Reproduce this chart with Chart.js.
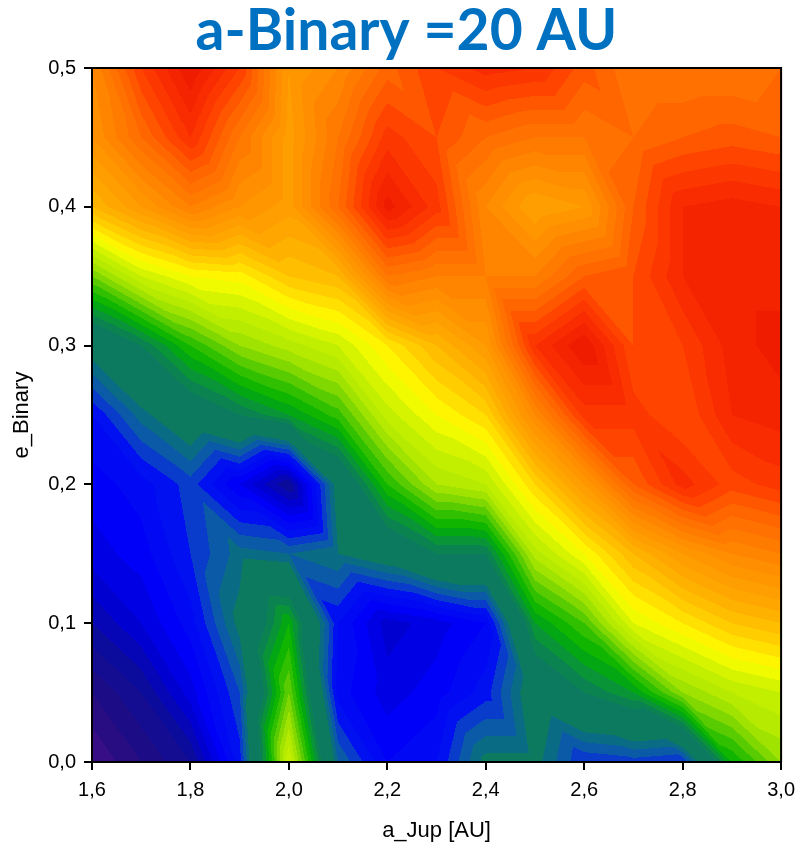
<!DOCTYPE html>
<html>
<head>
<meta charset="utf-8">
<script src="https://cdn.jsdelivr.net/npm/chart.js@4.4.1/dist/chart.umd.min.js"></script>
<style>
html,body{margin:0;padding:0;background:#ffffff;}
#wrap{width:803px;height:849px;position:relative;}
</style>
</head>
<body>
<div id="wrap"><canvas id="c" width="803" height="849"></canvas></div>
<script>
// ---------------- DATA ----------------
const aJup = [1.6, 1.7, 1.8, 1.9, 2.0, 2.1, 2.2, 2.3, 2.4, 2.5, 2.6, 2.7, 2.8, 2.9, 3.0];
const eBinary = [0.00, 0.05, 0.10, 0.15, 0.20, 0.25, 0.30, 0.35, 0.40, 0.45, 0.50];

// value at each a_Jup node, one array per e_Binary row
const z_e000 = [ 2,  6, 10, 23, 58, 28, 20, 22, 31, 31, 24, 25, 24, 44, 52];
const z_e005 = [ 6, 10, 17, 26, 50, 21, 17, 19, 23, 33, 38, 42, 52, 56, 58];
const z_e010 = [12, 16, 21, 31, 44, 22, 15, 17, 20, 42, 48, 60, 64, 68, 70];
const z_e015 = [17, 19, 24, 29, 28, 30, 33, 38, 38, 55, 62, 70, 76, 80, 82];
const z_e020 = [19, 21, 25, 18, 10, 32, 46, 54, 56, 66, 76, 88, 95, 91, 93];
const z_e025 = [22, 29, 34, 38, 42, 47, 57, 62, 66, 80, 93, 93, 90, 96, 97];
const z_e030 = [32, 38, 46, 52, 55, 58, 64, 70, 76, 94,100, 90, 92, 97, 99];
const z_e035 = [50, 58, 62, 63, 68, 70, 84, 82, 82, 82, 88, 90, 96, 97, 97];
const z_e040 = [70, 76, 82, 78, 75, 86, 99, 93, 80, 74, 76, 88, 96, 97, 96];
const z_e045 = [78, 86, 94, 84, 75, 84, 93, 90, 86, 84, 84, 86, 88, 89, 88];
const z_e050 = [80, 92,100, 92, 76, 80, 87, 92, 95, 94, 89, 84, 84, 84, 86];

const xTicks = [1.6, 1.8, 2.0, 2.2, 2.4, 2.6, 2.8, 3.0];
const xTickLabels = ['1,6', '1,8', '2,0', '2,2', '2,4', '2,6', '2,8', '3,0'];
const yTicks = [0.0, 0.1, 0.2, 0.3, 0.4, 0.5];
const yTickLabels = ['0,0', '0,1', '0,2', '0,3', '0,4', '0,5'];

const titleText = 'a-Binary =20 AU';
const xTitle = 'a_Jup [AU]';
const yTitle = 'e_Binary';

// ---------------- STYLE ----------------
const zRows = [z_e000, z_e005, z_e010, z_e015, z_e020, z_e025, z_e030, z_e035, z_e040, z_e045, z_e050];

const colorStops = [
  [0,   '#50108c'], [6,  '#200c80'], [11, '#0c0c9c'], [15, '#0000d0'],
  [19,  '#0000f8'], [23, '#0010f0'], [25, '#0a3ccc'], [27, '#0a5aa8'],
  [29,  '#0a6c84'], [30, '#0c7a5e'], [38, '#0c7a5e'], [41, '#0a9438'],
  [44,  '#00b000'], [47, '#30c000'], [51, '#80d800'], [54, '#b0e800'],
  [58,  '#c8f000'], [62, '#ffff00'], [65, '#ffe000'], [68, '#ffc400'],
  [72,  '#ffaa00'], [76, '#ff9a00'], [80, '#ff8a00'], [84, '#ff7600'],
  [88,  '#ff6000'], [91, '#ff4400'], [95, '#f82c00'], [100,'#ee1800']
];
const bandStep = 2;

function hexRgb(h){ return [parseInt(h.substr(1,2),16), parseInt(h.substr(3,2),16), parseInt(h.substr(5,2),16)]; }
function rampColor(z){
  if (z <= colorStops[0][0]) return hexRgb(colorStops[0][1]);
  for (let k = 1; k < colorStops.length; k++) {
    if (z <= colorStops[k][0]) {
      const z0 = colorStops[k-1][0], z1 = colorStops[k][0];
      const c0 = hexRgb(colorStops[k-1][1]), c1 = hexRgb(colorStops[k][1]);
      const t = (z - z0) / (z1 - z0);
      return [0,1,2].map(q => Math.round(c0[q] + t * (c1[q] - c0[q])));
    }
  }
  return hexRgb(colorStops[colorStops.length-1][1]);
}
const nBands = Math.ceil(100 / bandStep) + 1;
const lut = [];
for (let k = 0; k < nBands; k++) lut.push(rampColor(Math.min(100, (k + 0.5) * bandStep)));

function locate(arr, v){
  let i = 0;
  while (i < arr.length - 2 && v > arr[i+1]) i++;
  let t = (v - arr[i]) / (arr[i+1] - arr[i]);
  if (t < 0) t = 0; if (t > 1) t = 1;
  return [i, t];
}

const contourPlugin = {
  id: 'contourFill',
  beforeDraw(chart) {
    const ctx = chart.ctx, ca = chart.chartArea;
    const xs = chart.scales.x, ys = chart.scales.y;
    const L = Math.round(ca.left), T = Math.round(ca.top);
    const w = Math.round(ca.right) - L, h = Math.round(ca.bottom) - T;
    const off = document.createElement('canvas');
    off.width = w; off.height = h;
    const octx = off.getContext('2d');
    const img = octx.createImageData(w, h);
    const ci = new Int32Array(w), cu = new Float32Array(w);
    for (let px = 0; px < w; px++) {
      const r = locate(aJup, xs.getValueForPixel(L + px + 0.5));
      ci[px] = r[0]; cu[px] = r[1];
    }
    const rj = new Int32Array(h), rv = new Float32Array(h);
    for (let py = 0; py < h; py++) {
      const r = locate(eBinary, ys.getValueForPixel(T + py + 0.5));
      rj[py] = r[0]; rv[py] = r[1];
    }
    const d = img.data;
    for (let py = 0; py < h; py++) {
      const j = rj[py], v = rv[py];
      const r0 = zRows[j], r1 = zRows[j+1];
      for (let px = 0; px < w; px++) {
        const i = ci[px], u = cu[px];
        const z00 = r0[i], z10 = r0[i+1], z01 = r1[i], z11 = r1[i+1];
        let z;
        if (u + v <= 1) z = z00 + u * (z10 - z00) + v * (z01 - z00);
        else z = z11 + (1 - u) * (z01 - z11) + (1 - v) * (z10 - z11);
        let b = Math.floor(z / bandStep);
        if (b < 0) b = 0; if (b >= nBands) b = nBands - 1;
        const c = lut[b];
        const o = (py * w + px) * 4;
        d[o] = c[0]; d[o+1] = c[1]; d[o+2] = c[2]; d[o+3] = 255;
      }
    }
    octx.putImageData(img, 0, 0);
    ctx.save();
    ctx.drawImage(off, L, T);
    ctx.restore();
  },
  afterDraw(chart) {
    const ctx = chart.ctx, ca = chart.chartArea;
    ctx.save();
    ctx.strokeStyle = '#000';
    ctx.lineWidth = 2;
    ctx.beginPath();
    ctx.moveTo(ca.left, ca.top);
    ctx.lineTo(ca.right, ca.top);
    ctx.lineTo(ca.right, ca.bottom);
    ctx.stroke();
    ctx.restore();
  }
};

const gridPoints = [];
eBinary.forEach((e, j) => aJup.forEach((a, i) => gridPoints.push({x: a, y: e, z: zRows[j][i]})));

const tickFont = {family: "'Liberation Sans Narrow', 'Arial Narrow', 'Liberation Sans', sans-serif", size: 20};
const titleFont = {family: "'Liberation Sans Narrow', 'Arial Narrow', 'Liberation Sans', sans-serif", size: 22};

new Chart(document.getElementById('c'), {
  type: 'scatter',
  data: {
    datasets: [{
      label: 'grid',
      data: gridPoints,
      pointRadius: 0,
      pointHoverRadius: 0,
      showLine: false
    }]
  },
  options: {
    responsive: false,
    devicePixelRatio: 1,
    animation: false,
    events: [],
    layout: {padding: {top: 0, right: 18, bottom: 0, left: 28}},
    plugins: {
      legend: {display: false},
      tooltip: {enabled: false},
      title: {
        display: true,
        text: titleText,
        color: '#0070c0',
        font: {family: "Lato, 'Open Sans', sans-serif", size: 57, weight: 'bold', lineHeight: 1},
        padding: {top: 3, bottom: 8}
      }
    },
    scales: {
      x: {
        type: 'linear',
        min: 1.6, max: 3.0,
        afterBuildTicks: s => { s.ticks = xTicks.map(v => ({value: v})); },
        afterFit: s => { s.height = 87; },
        ticks: {
          callback: (v, i) => xTickLabels[i],
          color: '#000', font: tickFont, padding: 8,
          maxRotation: 0, autoSkip: false
        },
        grid: {drawOnChartArea: false, drawTicks: true, tickLength: 8, color: '#000', lineWidth: 2},
        border: {display: true, color: '#000', width: 2},
        title: {display: true, text: xTitle, color: '#000', font: titleFont, padding: {top: 0, bottom: 5}}
      },
      y: {
        type: 'linear',
        min: 0, max: 0.5,
        afterBuildTicks: s => { s.ticks = yTicks.map(v => ({value: v})); },
        afterFit: s => { s.width = 64; },
        ticks: {
          callback: (v, i) => yTickLabels[i],
          color: '#000', font: tickFont, padding: 8,
          autoSkip: false
        },
        grid: {drawOnChartArea: false, drawTicks: true, tickLength: 8, color: '#000', lineWidth: 2},
        border: {display: true, color: '#000', width: 2},
        title: {display: true, text: yTitle, color: '#000', font: titleFont, padding: {top: -19, bottom: 0}}
      }
    }
  },
  plugins: [contourPlugin]
});
</script>
</body>
</html>
